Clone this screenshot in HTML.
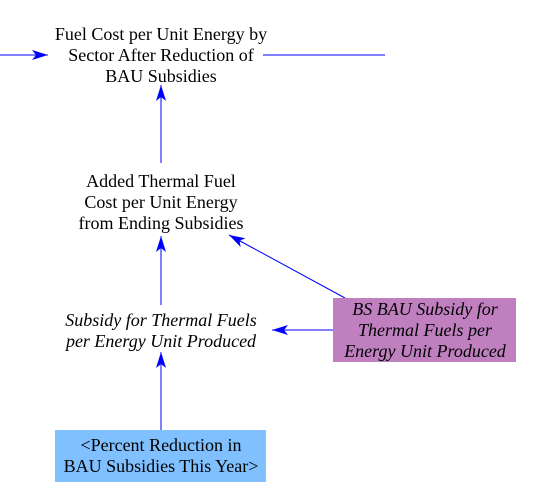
<!DOCTYPE html>
<html><head><style>body{margin:0;background:#fff}svg{display:block}text{font-family:"Liberation Serif","DejaVu Serif","Noto Serif CJK SC",serif}</style></head><body>
<svg width="541" height="502" xmlns="http://www.w3.org/2000/svg" font-size="18">
<defs><marker id="a" markerWidth="16" markerHeight="10" refX="16" refY="5" orient="auto" markerUnits="userSpaceOnUse"><path d="M0,0 L16,5 L0,10 L4,5 Z" fill="#0000ff"/></marker></defs>
<g stroke="#0000ff" stroke-width="1" fill="none">
<line x1="0" y1="55" x2="48" y2="55" marker-end="url(#a)"/>
<line x1="263" y1="55" x2="385" y2="55"/>
<line x1="161" y1="163" x2="161" y2="85" marker-end="url(#a)"/>
<line x1="161" y1="305" x2="161" y2="236" marker-end="url(#a)"/>
<line x1="345" y1="298" x2="229" y2="235" marker-end="url(#a)"/>
<line x1="333" y1="330" x2="272" y2="330" marker-end="url(#a)"/>
<line x1="161" y1="430" x2="161" y2="352" marker-end="url(#a)"/>
</g>
<g fill="#000" text-anchor="middle">
<text x="161" y="40">Fuel Cost per Unit Energy by</text>
<text x="161" y="61">Sector After Reduction of</text>
<text x="161" y="82">BAU Subsidies</text>
<text x="161" y="187">Added Thermal Fuel</text>
<text x="161" y="208">Cost per Unit Energy</text>
<text x="161" y="229">from Ending Subsidies</text>
<text x="161" y="326" font-style="italic">Subsidy for Thermal Fuels</text>
<text x="161" y="347" font-style="italic">per Energy Unit Produced</text>
<rect x="333" y="298" width="183" height="64" fill="#c080c0"/>
<text x="425" y="315" font-style="italic">BS BAU Subsidy for</text>
<text x="425" y="336" font-style="italic">Thermal Fuels per</text>
<text x="425" y="357" font-style="italic">Energy Unit Produced</text>
<rect x="55" y="430" width="211" height="52" fill="#80c0ff"/>
<text x="161" y="451">&lt;Percent Reduction in</text>
<text x="161" y="472">BAU Subsidies This Year&gt;</text>
</g>
</svg>
</body></html>
